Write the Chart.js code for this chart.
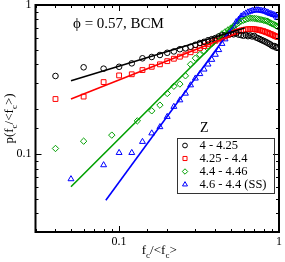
<!DOCTYPE html>
<html>
<head>
<meta charset="utf-8">
<script src="https://cdn.jsdelivr.net/npm/chart.js@4/dist/chart.umd.min.js"></script>
<style>
  html, body { margin: 0; padding: 0; background: #fff; }
  #wrap { width: 285px; height: 262px; position: relative; }
</style>
</head>
<body>
<div id="wrap"><canvas id="chart"></canvas></div>
<script>
// series: f_c/<f_c> and p(f_c/<f_c>)
var xBlack = [0.04, 0.06, 0.08, 0.10, 0.12, 0.14, 0.16, 0.18, 0.20, 0.22, 0.24, 0.26, 0.28, 0.30, 0.32, 0.34,
  0.36, 0.38, 0.40, 0.42, 0.44, 0.46, 0.48, 0.50, 0.52, 0.54, 0.56, 0.58, 0.60, 0.62, 0.64, 0.66,
  0.68, 0.70, 0.72, 0.74, 0.76, 0.78, 0.80, 0.82, 0.84, 0.86, 0.88, 0.90, 0.92, 0.94, 0.96, 0.98];
var yBlack = [0.334, 0.382, 0.374, 0.385, 0.406, 0.439, 0.448, 0.462, 0.478, 0.488, 0.505, 0.512, 0.525, 0.541, 0.556, 0.566,
  0.580, 0.590, 0.600, 0.615, 0.625, 0.628, 0.636, 0.640, 0.636, 0.645, 0.632, 0.628, 0.622, 0.630, 0.618, 0.625,
  0.615, 0.620, 0.605, 0.598, 0.590, 0.582, 0.575, 0.568, 0.560, 0.552, 0.545, 0.535, 0.528, 0.530, 0.518, 0.520];

var xRed = xBlack;
var yRed = [0.234, 0.243, 0.304, 0.337, 0.343, 0.366, 0.385, 0.400, 0.420, 0.436, 0.450, 0.465, 0.482, 0.500, 0.515, 0.530,
  0.545, 0.560, 0.575, 0.588, 0.600, 0.615, 0.628, 0.640, 0.650, 0.660, 0.668, 0.675, 0.680, 0.685, 0.688, 0.690,
  0.690, 0.688, 0.685, 0.682, 0.678, 0.672, 0.668, 0.660, 0.655, 0.648, 0.640, 0.635, 0.628, 0.620, 0.615, 0.610];

var xGreen = [0.04, 0.06, 0.09, 0.13, 0.16, 0.18, 0.20, 0.22, 0.24, 0.26, 0.28, 0.30, 0.32, 0.34,
  0.36, 0.38, 0.40, 0.42, 0.44, 0.46, 0.48, 0.50, 0.52, 0.54, 0.56, 0.58, 0.60, 0.62, 0.64, 0.66,
  0.68, 0.70, 0.72, 0.74, 0.76, 0.78, 0.80, 0.82, 0.84, 0.86, 0.88, 0.90, 0.92, 0.94, 0.96, 0.98];
var yGreen = [0.109, 0.122, 0.134, 0.167, 0.195, 0.213, 0.255, 0.285, 0.295, 0.335, 0.400, 0.440, 0.465, 0.490,
  0.530, 0.550, 0.580, 0.610, 0.640, 0.660, 0.680, 0.700, 0.720, 0.740, 0.760, 0.780, 0.790, 0.800, 0.810, 0.815,
  0.815, 0.812, 0.810, 0.805, 0.800, 0.795, 0.790, 0.785, 0.780, 0.770, 0.760, 0.750, 0.745, 0.735, 0.725, 0.715];

var xBlue = [0.05, 0.08, 0.10, 0.12, 0.14, 0.16, 0.18, 0.20, 0.22, 0.24, 0.26, 0.28, 0.30, 0.32, 0.34,
  0.36, 0.38, 0.40, 0.42, 0.44, 0.46, 0.48, 0.50, 0.52, 0.54, 0.56, 0.58, 0.60, 0.62, 0.64, 0.66,
  0.68, 0.70, 0.72, 0.74, 0.76, 0.78, 0.80, 0.82, 0.84, 0.86, 0.88, 0.90, 0.92, 0.94, 0.96, 0.98];
var yBlue = [0.068, 0.0844, 0.102, 0.102, 0.121, 0.138, 0.152, 0.178, 0.208, 0.230, 0.255, 0.290, 0.322, 0.345, 0.370,
  0.400, 0.430, 0.465, 0.500, 0.550, 0.590, 0.640, 0.680, 0.720, 0.770, 0.800, 0.840, 0.860, 0.880, 0.895, 0.905,
  0.915, 0.920, 0.925, 0.925, 0.920, 0.915, 0.910, 0.905, 0.895, 0.885, 0.875, 0.870, 0.860, 0.855, 0.840, 0.820];

// power-law fits, end points only
var fitBlackX = [0.05, 0.61], fitBlackY = [0.31, 0.70];
var fitRedX = [0.05, 0.54], fitRedY = [0.234, 0.645];
var fitGreenX = [0.05, 0.516], fitGreenY = [0.0604, 0.734];
var fitBlueX = [0.0826, 0.582], fitBlueY = [0.049, 0.857];

var seriesNames = ['4 - 4.25', '4.25 - 4.4', '4.4 - 4.46', '4.6 - 4.4 (SS)'];
var seriesColors = ['#000000', '#ff0000', '#00a000', '#0000ff'];
var seriesStyles = ['circle', 'rect', 'rectRot', 'triangle'];
var seriesRadius = [2.8, 3.4, 3.2, 3.4];

var xTickLabels = [0.1, 1];
var yTickLabels = [0.1, 1];

var serif = '"Liberation Serif", "DejaVu Serif", serif';

function pts(xs, ys) {
    return xs.map(function (x, i) { return { x: x, y: ys[i] }; });
}

function markerSet(i, xs, ys) {
    return {
        label: seriesNames[i],
        data: pts(xs, ys),
        showLine: false,
        pointStyle: seriesStyles[i],
        pointRadius: seriesRadius[i],
        pointBorderWidth: 1,
        pointBorderColor: seriesColors[i],
        pointBackgroundColor: 'rgba(0,0,0,0)',
        borderColor: seriesColors[i]
    };
}

function fitSet(i, xs, ys) {
    return {
        label: 'fit ' + seriesNames[i],
        data: pts(xs, ys),
        showLine: true,
        pointRadius: 0,
        borderWidth: 1.6,
        borderColor: seriesColors[i]
    };
}

function isMajor(v) {
    var l = Math.log10(v);
    return Math.abs(l - Math.round(l)) < 1e-6;
}

function hasLabel(list, v) {
    return list.some(function (t) { return Math.abs(t - v) < 1e-9; });
}

function fixAxis(size, horizontal) {
    return function (scale) {
        if (horizontal) scale.height = size; else scale.width = size;
        scale.paddingTop = 0; scale.paddingBottom = 0;
        scale.paddingLeft = 0; scale.paddingRight = 0;
    };
}

// draw "f" "c"(sub) "/<f" "c"(sub) ">" starting at x along the baseline
function drawFc(ctx, x, y, size, parts) {
    parts.forEach(function (p) {
        if (p.sub) {
            ctx.font = Math.round(size * 0.72) + 'px ' + serif;
            ctx.fillText(p.t, x, y + size * 0.3);
        } else {
            ctx.font = size + 'px ' + serif;
            ctx.fillText(p.t, x, y);
        }
        x += ctx.measureText(p.t).width;
    });
}

function partsWidth(ctx, size, parts) {
    var w = 0;
    parts.forEach(function (p) {
        ctx.font = (p.sub ? Math.round(size * 0.72) : size) + 'px ' + serif;
        w += ctx.measureText(p.t).width;
    });
    return w;
}

var decorations = {
    id: 'decorations',
    afterDatasetsDraw: function (chart) {
        var ctx = chart.ctx, a = chart.chartArea;
        var sx = chart.scales.x, sy = chart.scales.y;
        ctx.save();

        // inward ticks on all four sides
        ctx.strokeStyle = '#000';
        ctx.lineWidth = 1;
        ctx.beginPath();
        sx.ticks.forEach(function (t) {
            if (t.value < sx.min || t.value > sx.max) return;
            var px = Math.round(sx.getPixelForValue(t.value)) + 0.5;
            var len = isMajor(t.value) ? 6 : 3;
            ctx.moveTo(px, a.bottom); ctx.lineTo(px, a.bottom - len);
            ctx.moveTo(px, a.top); ctx.lineTo(px, a.top + len);
        });
        sy.ticks.forEach(function (t) {
            if (t.value < sy.min || t.value > sy.max) return;
            var py = Math.round(sy.getPixelForValue(t.value)) + 0.5;
            var len = isMajor(t.value) ? 6 : 3;
            ctx.moveTo(a.left, py); ctx.lineTo(a.left + len, py);
            ctx.moveTo(a.right, py); ctx.lineTo(a.right - len, py);
        });
        ctx.stroke();

        // frame
        ctx.lineWidth = 2;
        ctx.strokeRect(a.left, a.top, a.right - a.left, a.bottom - a.top);

        // annotation
        ctx.fillStyle = '#000';
        ctx.textBaseline = 'alphabetic';
        ctx.textAlign = 'left';
        ctx.font = '15px ' + serif;
        ctx.fillText('\u03d5 = 0.57, BCM', 73, 28);

        // legend
        ctx.font = '14px ' + serif;
        ctx.fillText('Z', 200, 132);
        ctx.lineWidth = 1;
        ctx.strokeStyle = '#333';
        ctx.strokeRect(177.5, 138.5, 97, 55);
        ctx.font = '12.5px ' + serif;
        ctx.textBaseline = 'middle';
        for (var i = 0; i < 4; i++) {
            var ry = 145.5 + i * 13;
            ctx.strokeStyle = seriesColors[i];
            ctx.fillStyle = 'rgba(0,0,0,0)';
            Chart.helpers.drawPoint(ctx, {
                pointStyle: seriesStyles[i], radius: seriesRadius[i] * 0.85,
                borderWidth: 1, rotation: 0
            }, 185, ry);
            ctx.fillStyle = '#000';
            ctx.fillText(seriesNames[i], 199.5, ry + 0.5);
        }

        // axis titles with subscripts
        var parts = [{ t: 'f' }, { t: 'c', sub: true }, { t: '/<f' }, { t: 'c', sub: true }, { t: '>' }];
        ctx.textBaseline = 'alphabetic';
        var xs = 13;
        var wx = partsWidth(ctx, xs, parts);
        drawFc(ctx, (a.left + a.right) / 2 - wx / 2 + 2, 254, xs, parts);

        var yparts = [{ t: 'p(f' }, { t: 'c', sub: true }, { t: '/<f' }, { t: 'c', sub: true }, { t: '>)' }];
        var wy = partsWidth(ctx, xs, yparts);
        ctx.translate(13, (a.top + a.bottom) / 2);
        ctx.rotate(-Math.PI / 2);
        drawFc(ctx, -wy / 2, 0, xs, yparts);

        ctx.restore();
    }
};

var ctx = document.getElementById('chart').getContext('2d');
var chart = new Chart(ctx, {
    type: 'scatter',
    data: {
        datasets: [
            fitSet(0, fitBlackX, fitBlackY),
            fitSet(1, fitRedX, fitRedY),
            fitSet(2, fitGreenX, fitGreenY),
            fitSet(3, fitBlueX, fitBlueY),
            markerSet(0, xBlack, yBlack),
            markerSet(1, xRed, yRed),
            markerSet(2, xGreen, yGreen),
            markerSet(3, xBlue, yBlue)
        ]
    },
    options: {
        responsive: true,
        maintainAspectRatio: false,
        animation: false,
        devicePixelRatio: 1,
        layout: { padding: { top: 5, right: 6, left: 0, bottom: 0 } },
        plugins: {
            legend: { display: false },
            tooltip: { enabled: false }
        },
        scales: {
            x: {
                type: 'logarithmic',
                min: 0.03,
                max: 1,
                afterFit: fixAxis(30, true),
                grid: { display: false, drawTicks: false },
                border: { display: false },
                ticks: {
                    autoSkip: false,
                    maxRotation: 0,
                    padding: 3,
                    color: '#000',
                    font: { family: serif, size: 12 },
                    callback: function (v) { return hasLabel(xTickLabels, v) ? String(v) : ''; }
                }
            },
            y: {
                type: 'logarithmic',
                min: 0.03,
                max: 1,
                afterFit: fixAxis(35.5, false),
                grid: { display: false, drawTicks: false },
                border: { display: false },
                ticks: {
                    autoSkip: false,
                    padding: 4,
                    color: '#000',
                    font: { family: serif, size: 12 },
                    callback: function (v) { return hasLabel(yTickLabels, v) ? String(v) : ''; }
                }
            }
        }
    },
    plugins: [decorations]
});
</script>
</body>
</html>
